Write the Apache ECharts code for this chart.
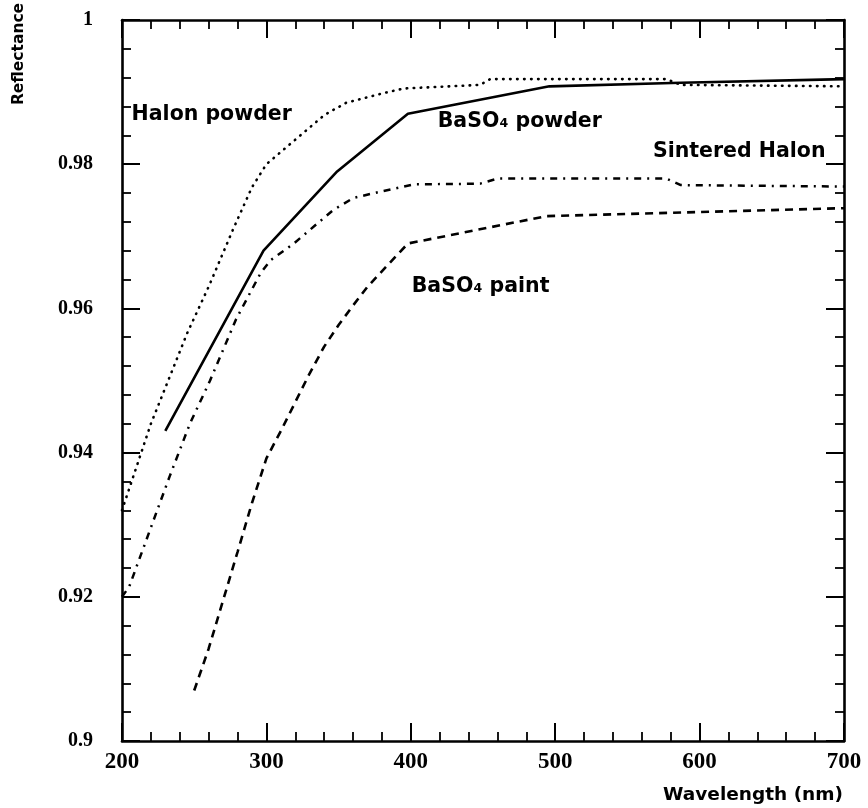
<!DOCTYPE html>
<html>
<head>
<meta charset="utf-8">
<script src="https://cdn.jsdelivr.net/npm/echarts@6/dist/echarts.min.js"></script>
<style>html,body{margin:0;padding:0;background:#fff}#c{width:868px;height:808px}</style>
</head>
<body>
<div id="c"></div>
<script>
// Wavelength (nm), Reflectance
var halonPowder = [[200,0.932],[210,0.938],[220,0.944],[230,0.949],[245,0.9565],[260,0.963],[277,0.971],[290,0.9768],[300,0.9800],[320,0.9834],[340,0.9868],[355,0.9885],[380,0.9898],[395,0.9905],[448,0.991],[455,0.9918],[577,0.9918],[587,0.991],[700,0.9908]];
var baso4Powder = [[230,0.943],[298,0.968],[349,0.979],[398,0.987],[496,0.9908],[587,0.9913],[700,0.9918]];
var sinteredHalon = [[200,0.920],[205,0.9214],[222,0.9307],[233,0.9367],[247,0.944],[261,0.950],[279,0.9585],[296,0.9649],[303,0.9667],[319,0.969],[346,0.9736],[360,0.9753],[379,0.9762],[402,0.9772],[448,0.9773],[460,0.978],[577,0.978],[587,0.9771],[700,0.9769]];
var baso4Paint = [[250,0.907],[260,0.9128],[270,0.9195],[280,0.9262],[290,0.9330],[300,0.9392],[310,0.9430],[320,0.9470],[330,0.9510],[340,0.9547],[350,0.9577],[360,0.9604],[370,0.9630],[383,0.9658],[398,0.969],[494,0.9728],[700,0.9739]];
var xTicks = {min:200, max:700, step:100};
var yTicks = {min:0.9, max:1.0, step:0.02};
var annotationText = ['Halon powder','BaSO\u2084 powder','Sintered Halon','BaSO\u2084 paint'];
var annotationPos = [[207,0.9868],[419,0.9858],[568,0.9817],[401,0.963]];

var chart = echarts.init(document.getElementById('c'), null, {renderer:'canvas'});
var axisCommon = function(){
  return {
    axisLine:{show:true, onZero:false, lineStyle:{color:'#000', width:2.6}},
    axisTick:{show:true, inside:true, length:18, lineStyle:{color:'#000', width:2}},
    minorTick:{show:true, splitNumber:5, length:9, lineStyle:{color:'#000', width:1.8}},
    splitLine:{show:false}
  };
};
var xLabel = {show:true, color:'#000', fontFamily:'Liberation Serif', fontWeight:'bold', fontSize:23, margin:10};
var yLabel = {show:true, color:'#000', fontFamily:'Liberation Serif', fontWeight:'bold', fontSize:20, margin:29, padding:[10,0,0,0]};
var ann = annotationText.map(function(t,i){return {value:annotationPos[i], name:t};});
var option = {
  backgroundColor:'#fff',
  animation:false,
  grid:{left:122, right:24, top:20, bottom:67, containLabel:false},
  xAxis:[
    Object.assign({type:'value', position:'bottom', min:xTicks.min, max:xTicks.max, interval:xTicks.step, axisLabel:xLabel}, axisCommon()),
    Object.assign({type:'value', position:'top', min:xTicks.min, max:xTicks.max, interval:xTicks.step, axisLabel:{show:false}}, axisCommon())
  ],
  yAxis:[
    Object.assign({type:'value', position:'left', min:yTicks.min, max:yTicks.max, interval:yTicks.step, axisLabel:yLabel}, axisCommon()),
    Object.assign({type:'value', position:'right', min:yTicks.min, max:yTicks.max, interval:yTicks.step, axisLabel:{show:false}}, axisCommon())
  ],
  series:[
    {type:'line', name:'Halon powder', data:halonPowder, showSymbol:false, symbol:'none',
      lineStyle:{color:'#000', width:2.6, type:[0.5,6.5], cap:'round'}},
    {type:'line', name:'BaSO4 powder', data:baso4Powder, showSymbol:false, symbol:'none',
      lineStyle:{color:'#000', width:2.6, type:'solid'}},
    {type:'line', name:'Sintered Halon', data:sinteredHalon, showSymbol:false, symbol:'none',
      lineStyle:{color:'#000', width:2.5, type:[7,6,2,6]}},
    {type:'line', name:'BaSO4 paint', data:baso4Paint, showSymbol:false, symbol:'none',
      lineStyle:{color:'#000', width:2.6, type:[8,6]}},
    {type:'scatter', data:ann, symbolSize:1, itemStyle:{color:'rgba(0,0,0,0)', opacity:1}, silent:true,
      label:{show:true, position:[0,0], align:'left', verticalAlign:'middle', formatter:function(p){return p.name;},
        color:'#000', fontFamily:'DejaVu Sans', fontWeight:'bold', fontSize:20.5}}
  ],
  graphic:[
    {type:'text', x:19, y:54, rotation:Math.PI/2, style:{text:'Reflectance', fill:'#000', font:'bold 15.5px "DejaVu Sans"', align:'center', verticalAlign:'middle'}},
    {type:'text', x:843, y:795, style:{text:'Wavelength (nm)', fill:'#000', font:'bold 18.5px "DejaVu Sans"', align:'right', verticalAlign:'middle'}}
  ]
};
chart.setOption(option);
</script>
</body>
</html>
